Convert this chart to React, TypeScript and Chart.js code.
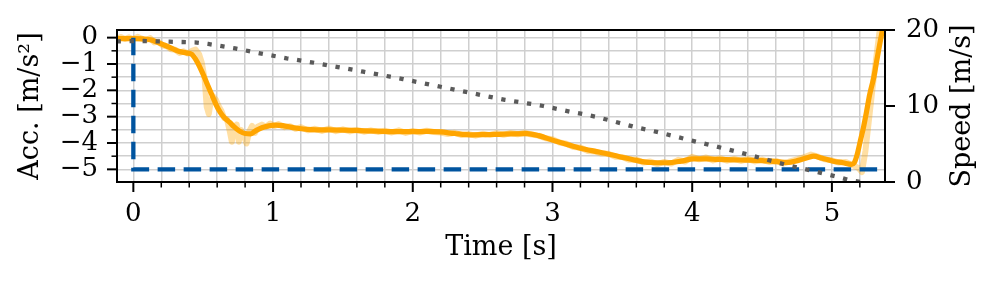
import React, { useEffect, useRef } from 'react';
import { Chart, registerables } from 'chart.js';

Chart.register(...registerables);

// ---- data ----
const accFilteredT = [-0.12, -0.05, 0.0, 0.07, 0.12, 0.16, 0.22, 0.28, 0.33, 0.38, 0.42, 0.46, 0.5, 0.53, 0.56, 0.59, 0.62, 0.65, 0.69, 0.72, 0.76, 0.8, 0.84, 0.88, 0.92, 0.97, 1.02, 1.07, 1.15, 1.27, 1.4, 1.5, 1.62, 1.74, 1.85, 2.0, 2.1, 2.2, 2.3, 2.43, 2.52, 2.6, 2.7, 2.82, 2.9, 3.0, 3.1, 3.2, 3.34, 3.48, 3.6, 3.7, 3.82, 3.92, 4.01, 4.1, 4.18, 4.3, 4.39, 4.5, 4.61, 4.68, 4.76, 4.83, 4.87, 4.93, 5.01, 5.08, 5.14, 5.16, 5.18, 5.2, 5.225, 5.25, 5.27, 5.3, 5.32, 5.36, 5.39];
const accFilteredV = [-0.03, -0.04, -0.04, -0.05, -0.08, -0.15, -0.28, -0.42, -0.53, -0.58, -0.64, -0.95, -1.4, -1.78, -2.15, -2.52, -2.82, -3.03, -3.22, -3.38, -3.55, -3.64, -3.65, -3.52, -3.42, -3.35, -3.32, -3.34, -3.42, -3.49, -3.5, -3.51, -3.53, -3.55, -3.57, -3.57, -3.56, -3.58, -3.64, -3.69, -3.68, -3.67, -3.65, -3.64, -3.72, -3.89, -4.05, -4.2, -4.35, -4.52, -4.66, -4.74, -4.75, -4.69, -4.6, -4.6, -4.62, -4.64, -4.65, -4.67, -4.71, -4.74, -4.66, -4.55, -4.5, -4.58, -4.69, -4.75, -4.81, -4.75, -4.45, -4.0, -3.43, -2.75, -2.17, -1.5, -0.9, 0.24, 1.0];

const accRawT = [-0.12, -0.09, -0.06, -0.03, 0.0, 0.03, 0.06, 0.09, 0.12, 0.15, 0.18, 0.21, 0.24, 0.27, 0.3, 0.33, 0.36, 0.39, 0.42, 0.445, 0.47, 0.49, 0.51, 0.525, 0.54, 0.555, 0.57, 0.59, 0.61, 0.63, 0.65, 0.67, 0.69, 0.705, 0.72, 0.74, 0.755, 0.77, 0.79, 0.81, 0.83, 0.85, 0.87, 0.89, 0.92, 0.95, 0.98, 1.01, 1.04, 1.08, 1.12, 1.16, 1.2, 1.25, 1.3, 1.35, 1.4, 1.45, 1.5, 1.55, 1.6, 1.65, 1.7, 1.75, 1.8, 1.85, 1.9, 1.95, 2.0, 2.05, 2.1, 2.15, 2.2, 2.25, 2.3, 2.35, 2.4, 2.45, 2.5, 2.55, 2.6, 2.65, 2.7, 2.75, 2.8, 2.85, 2.9, 2.95, 3.0, 3.05, 3.1, 3.15, 3.2, 3.25, 3.3, 3.35, 3.4, 3.45, 3.5, 3.55, 3.6, 3.65, 3.7, 3.75, 3.8, 3.85, 3.9, 3.95, 4.0, 4.05, 4.1, 4.15, 4.2, 4.25, 4.3, 4.35, 4.4, 4.45, 4.5, 4.55, 4.6, 4.65, 4.7, 4.75, 4.8, 4.85, 4.9, 4.95, 5.0, 5.05, 5.1, 5.15, 5.19, 5.215, 5.24, 5.27, 5.3, 5.34, 5.38];
const accRawV = [-0.02, 0.02, -0.05, 0.01, -0.06, 0.03, -0.04, -0.09, -0.02, -0.18, -0.16, -0.3, -0.33, -0.44, -0.46, -0.58, -0.52, -0.6, -0.5, -0.45, -0.62, -0.95, -1.55, -2.62, -2.9, -2.4, -2.22, -2.35, -2.6, -2.78, -3.05, -3.1, -3.55, -3.95, -3.45, -3.3, -3.95, -3.5, -3.7, -4.02, -3.55, -3.35, -3.62, -3.38, -3.3, -3.38, -3.26, -3.35, -3.28, -3.4, -3.36, -3.46, -3.4, -3.52, -3.46, -3.54, -3.45, -3.55, -3.48, -3.56, -3.5, -3.57, -3.52, -3.58, -3.53, -3.6, -3.52, -3.62, -3.54, -3.6, -3.53, -3.58, -3.6, -3.66, -3.61, -3.7, -3.66, -3.72, -3.65, -3.7, -3.63, -3.69, -3.62, -3.67, -3.61, -3.68, -3.72, -3.82, -3.86, -3.98, -4.03, -4.15, -4.17, -4.3, -4.32, -4.4, -4.41, -4.52, -4.53, -4.64, -4.63, -4.74, -4.7, -4.8, -4.72, -4.78, -4.64, -4.7, -4.52, -4.62, -4.55, -4.66, -4.58, -4.67, -4.6, -4.68, -4.61, -4.7, -4.63, -4.72, -4.68, -4.78, -4.7, -4.62, -4.54, -4.44, -4.52, -4.62, -4.66, -4.74, -4.72, -4.85, -4.95, -5.1, -4.3, -2.9, -1.5, 0.2, 1.1];

const accRequestT = [0.0, 0.0, 5.4];
const accRequestV = [0.0, -5.0, -5.0];

const speedT = [-0.12, 0.07, 0.26, 0.44, 0.536, 0.728, 0.907, 1.098, 1.276, 1.464, 1.646, 1.838, 1.929, 2.66, 2.85, 2.935, 3.126, 3.214, 3.305, 3.4, 3.58, 3.77, 3.95, 4.128, 4.32, 4.5, 4.677, 4.856, 5.035, 5.13, 5.21];
const speedV = [18.5, 18.55, 18.46, 18.38, 18.16, 17.59, 16.93, 16.27, 15.75, 15.13, 14.51, 13.86, 13.55, 10.8, 10.26, 10.0, 9.25, 8.95, 8.6, 8.16, 7.28, 6.49, 5.66, 4.87, 3.99, 3.11, 2.24, 1.49, 0.7, 0.22, 0.0];

const timeMajorTicks = [0, 1, 2, 3, 4, 5];
const accMajorTicks = [0, -1, -2, -3, -4, -5];
const speedMajorTicks = [0, 10, 20];

const xTitle = 'Time [s]';
const yTitle = 'Acc. [m/s²]';
const y2Title = 'Speed [m/s]';

// ---- styling ----
const FONT = 'DejaVu Serif';
const FS = 26;
const FS_TITLE = 27;
const ORANGE = '#ffa500';
const ORANGE_LIGHT = 'rgba(255,165,0,0.36)';
const BLUE = '#00549f';
const GRAY = '#5a5a5a';
const GRID = '#cfcfcf';

const isIn = (v: number, arr: number[]) => arr.some((a) => Math.abs(a - v) < 1e-6);
const fmt = (v: number) => {
  const r = Math.round(v);
  return r < 0 ? '\u2212' + String(-r) : String(r);
};
const pts = (t: number[], v: number[]) => t.map((x, i) => ({ x, y: v[i] }));
const noPad = (s: any) => {
  s.paddingTop = 0;
  s.paddingBottom = 0;
  s.paddingLeft = 0;
  s.paddingRight = 0;
};

const framePlugin = {
  id: 'frameTicks',
  afterDraw(chart: any) {
    const { ctx, chartArea: a } = chart;
    const sx = chart.scales.x;
    const sy = chart.scales.y;
    const sy2 = chart.scales.y2;
    ctx.save();
    ctx.strokeStyle = '#000';
    const line = (x1: number, y1: number, x2: number, y2: number, w: number) => {
      ctx.lineWidth = w;
      ctx.beginPath();
      ctx.moveTo(x1, y1);
      ctx.lineTo(x2, y2);
      ctx.stroke();
    };
    sx.ticks.forEach((t: any) => {
      const p = sx.getPixelForValue(t.value);
      const major = isIn(t.value, timeMajorTicks);
      line(p, a.bottom, p, a.bottom + (major ? 10 : 5.5), major ? 2 : 1.5);
    });
    sy.ticks.forEach((t: any) => {
      const p = sy.getPixelForValue(t.value);
      const major = isIn(t.value, accMajorTicks);
      line(a.left, p, a.left - (major ? 10 : 5.5), p, major ? 2 : 1.5);
    });
    sy2.ticks.forEach((t: any) => {
      const p = sy2.getPixelForValue(t.value);
      line(a.right, p, a.right + 10, p, 2);
    });
    ctx.lineWidth = 2;
    ctx.strokeRect(a.left, a.top, a.right - a.left, a.bottom - a.top);
    // right axis title (reads bottom-to-top like the reference)
    ctx.fillStyle = '#000';
    ctx.font = `${FS_TITLE}px "${FONT}"`;
    ctx.textAlign = 'center';
    ctx.textBaseline = 'middle';
    ctx.translate(963, (a.top + a.bottom) / 2);
    ctx.rotate(-Math.PI / 2);
    ctx.fillText(y2Title, 0, 0);
    ctx.restore();
  },
};

export default function App() {
  const ref = useRef<HTMLCanvasElement | null>(null);
  useEffect(() => {
    document.body.style.margin = '0';
    const canvas = ref.current;
    if (!canvas) return;
    const tickFont = { family: FONT, size: FS };
    const titleFont = { family: FONT, size: FS_TITLE };
    const chart = new Chart(canvas, {
      type: 'line',
      data: {
        datasets: [
          {
            label: 'speed',
            data: pts(speedT, speedV),
            yAxisID: 'y2',
            borderColor: GRAY,
            borderWidth: 4.3,
            borderDash: [4.3, 8.7],
            pointRadius: 0,
            fill: false,
            order: 0,
          },
          {
            label: 'request',
            data: pts(accRequestT, accRequestV),
            yAxisID: 'y',
            borderColor: BLUE,
            borderWidth: 4.3,
            borderDash: [17.5, 8.5],
            pointRadius: 0,
            fill: false,
            order: 1,
          },
          {
            label: 'filtered',
            data: pts(accFilteredT, accFilteredV),
            yAxisID: 'y',
            borderColor: ORANGE,
            borderWidth: 5.2,
            borderJoinStyle: 'round',
            borderCapStyle: 'round',
            cubicInterpolationMode: 'monotone',
            pointRadius: 0,
            fill: false,
            order: 2,
          },
          {
            label: 'raw',
            data: pts(accRawT, accRawV),
            yAxisID: 'y',
            borderColor: ORANGE_LIGHT,
            borderWidth: 6,
            borderJoinStyle: 'round',
            pointRadius: 0,
            fill: false,
            order: 3,
          },
        ],
      },
      options: {
        animation: false,
        responsive: false,
        devicePixelRatio: 1,
        layout: { padding: { top: 30, left: 0, right: 0, bottom: 0 } },
        plugins: { legend: { display: false }, tooltip: { enabled: false } },
        scales: {
          x: {
            type: 'linear',
            min: -0.117,
            max: 5.38,
            border: { display: false },
            grid: { color: GRID, lineWidth: 1.5, drawTicks: false },
            ticks: {
              stepSize: 0.2,
              includeBounds: false,
              autoSkip: false,
              maxRotation: 0,
              padding: 17,
              color: '#000',
              font: tickFont,
              callback: (v: any) => (isIn(Number(v), timeMajorTicks) ? fmt(Number(v)) : ''),
            },
            title: { display: true, text: xTitle, color: '#000', font: titleFont, padding: { top: 0, bottom: 22 } },
            afterFit: (s: any) => {
              s.height = 104;
              noPad(s);
            },
          },
          y: {
            type: 'linear',
            position: 'left',
            min: -5.48,
            max: 0.29,
            border: { display: false },
            grid: { color: GRID, lineWidth: 1.5, drawTicks: false },
            ticks: {
              stepSize: 0.5,
              includeBounds: false,
              autoSkip: false,
              padding: 19,
              color: '#000',
              font: tickFont,
              callback: (v: any) => (isIn(Number(v), accMajorTicks) ? fmt(Number(v)) : ''),
            },
            title: { display: true, text: yTitle, color: '#000', font: titleFont, padding: { top: 15, bottom: 0 } },
            afterFit: (s: any) => {
              s.width = 117;
              noPad(s);
            },
          },
          y2: {
            type: 'linear',
            position: 'right',
            min: 0,
            max: 20,
            border: { display: false },
            grid: { display: false, drawTicks: false },
            ticks: {
              stepSize: 10,
              autoSkip: false,
              padding: 21,
              color: '#000',
              font: tickFont,
              callback: (v: any) => (isIn(Number(v), speedMajorTicks) ? fmt(Number(v)) : ''),
            },
            afterFit: (s: any) => {
              s.width = 112;
              noPad(s);
            },
          },
        },
      },
      plugins: [framePlugin],
    } as any);
    return () => chart.destroy();
  }, []);
  return (
    <div style={{ position: 'absolute', left: 0, top: 0, width: 997, height: 286 }}>
      <canvas ref={ref} width={997} height={286} style={{ width: 997, height: 286 }} />
    </div>
  );
}
